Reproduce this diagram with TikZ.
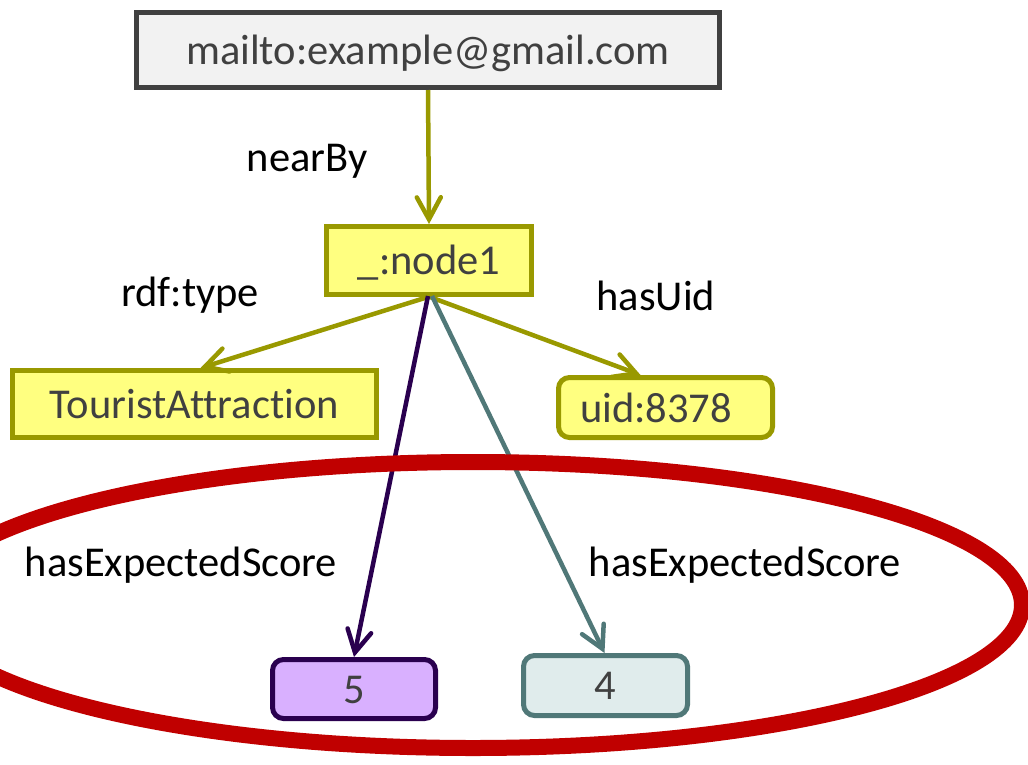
\documentclass[tikz,border=0pt]{standalone}
\usepackage{fontspec}
\setmainfont[Ligatures=NoCommon]{Carlito}
\usetikzlibrary{arrows.meta,calc}
\definecolor{olivec}{HTML}{999900}
\definecolor{yellowf}{HTML}{FFFF80}
\definecolor{grayb}{HTML}{404040}
\definecolor{grayf}{HTML}{F2F2F2}
\definecolor{purpb}{HTML}{2A004F}
\definecolor{purpf}{HTML}{D9B0FF}
\definecolor{tealb}{HTML}{507878}
\definecolor{tealf}{HTML}{E0ECEC}
\definecolor{redc}{HTML}{C00000}
\definecolor{txt}{HTML}{404040}
\tikzset{
  bigfont/.style={font=\fontsize{42.5}{50}\selectfont, text height=32pt, text depth=4pt},
  bx/.style={draw, line width=5pt, inner sep=0pt, text=txt, bigfont},
  lbl/.style={inner sep=0pt, text=black, bigfont},
  arr/.style={line width=4.5pt, -{Straight Barb[length=22pt,width=24pt,line cap=round]}},
}
\begin{document}
\begin{tikzpicture}[x=1pt,y=-1pt]
\useasboundingbox (0,0) rectangle (1028,764);
\clip (0,0) rectangle (1028,764);
% nodes
\node[bx, fill=grayf, draw=grayb, minimum width=583pt, minimum height=75pt] (top) at (428,50) {mailto:example@gmail.com};
\node[bx, fill=yellowf, draw=olivec, minimum width=205pt, minimum height=68pt] (n1) at (429,260.5) {\_:node1};
\node[bx, fill=yellowf, draw=olivec, minimum width=364pt, minimum height=67pt] (ta) at (194.5,404) {TouristAttraction};
\node[bx, fill=yellowf, draw=olivec, rounded corners=11pt, minimum width=214pt, minimum height=60pt] (uid) at (665.5,407.5) {};
\node[inner sep=0pt, text=txt, bigfont] (uidt) at (656,408) {uid:8378};
\node[bx, fill=purpf, draw=purpb, rounded corners=11pt, minimum width=163pt, minimum height=59pt] (v5) at (354,689) {5};
\node[bx, fill=tealf, draw=tealb, rounded corners=11pt, minimum width=164pt, minimum height=60pt] (v4) at (605.5,685.5) {4};
% labels
\node[lbl] (l1) at (307,157) {nearBy};
\node[lbl] (l2) at (190,292) {rdf:type};
\node[lbl] (l3) at (656,296) {hasUid};
\node[lbl] (l4) at (181,562) {hasExpectedScore};
\node[lbl] (l5) at (745,562) {hasExpectedScore};
% connectors
\draw[arr, olivec] (top.south) -- (n1.north);
\draw[arr, olivec] ($(n1.south)+(-1,0)$) -- ($(ta.north)+(6,0)$);
\draw[arr, olivec] ($(n1.south)+(1,0)$) -- ($(uid.north)+(-25,0)$);
\draw[arr, purpb] ($(n1.south)+(-1,-1)$) -- (v5.north);
\draw[arr, tealb] ($(n1.south)+(3,-1)$) -- ($(v4.north)+(-1,0)$);
% highlight ellipse
\draw[redc, line width=16pt] (473,605) ellipse [x radius=549, y radius=143];
\end{tikzpicture}
\end{document}
